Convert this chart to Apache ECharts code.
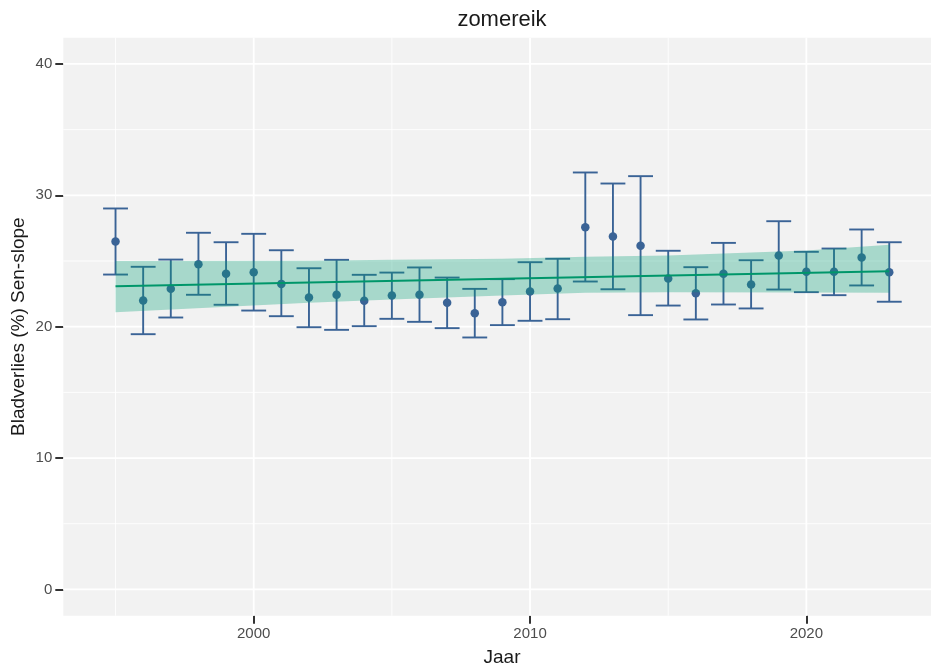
<!DOCTYPE html>
<html>
<head>
<meta charset="utf-8">
<script src="https://cdn.jsdelivr.net/npm/echarts@6/dist/echarts.min.js"></script>
<style>
  html, body { margin: 0; padding: 0; background: #ffffff; }
  #chart { width: 931px; height: 668px; }
</style>
</head>
<body>
<div id="chart"></div>
<script>
// Yearly leaf-loss estimates for zomereik with their confidence limits
const years = [1995, 1996, 1997, 1998, 1999, 2000, 2001, 2002, 2003, 2004,
               2005, 2006, 2007, 2008, 2009, 2010, 2011, 2012, 2013, 2014,
               2015, 2016, 2017, 2018, 2019, 2020, 2021, 2022, 2023];
const meanLoss = [26.48, 21.99, 22.88, 24.76, 24.03, 24.15, 23.26, 22.22, 22.43, 21.97,
                  22.37, 22.43, 21.82, 21.03, 21.87, 22.68, 22.91, 27.57, 26.86, 26.16,
                  23.67, 22.55, 24.03, 23.21, 25.42, 24.18, 24.18, 25.27, 24.15];
const upperLimit = [29.00, 24.56, 25.11, 27.15, 26.43, 27.07, 25.82, 24.45, 25.09, 23.95,
                    24.12, 24.51, 23.74, 22.88, 23.62, 24.91, 25.17, 31.74, 30.90, 31.46,
                    25.78, 24.53, 26.38, 25.06, 28.03, 25.70, 25.95, 27.40, 26.43];
const lowerLimit = [23.97, 19.43, 20.70, 22.43, 21.67, 21.23, 20.80, 19.96, 19.76, 20.04,
                    20.60, 20.37, 19.89, 19.18, 20.12, 20.45, 20.57, 23.44, 22.85, 20.88,
                    21.61, 20.55, 21.69, 21.39, 22.83, 22.63, 22.40, 23.14, 21.90];

// Sen-slope trend and its confidence band
const trendYears = [1995, 2023];
const trendValues = [23.08, 24.22];
const bandYears = [1995, 2002, 2005, 2009, 2012, 2015, 2020, 2023];
const bandUpper = [25.00, 25.02, 25.10, 25.17, 25.32, 25.42, 25.80, 26.23];
const bandLower = [21.10, 21.82, 22.08, 22.37, 22.58, 22.62, 22.60, 22.58];

// Axis ticks and grid lines
const xTicks = [2000, 2010, 2020];
const xMinor = [1995, 2005, 2015];
const yTicks = [0, 10, 20, 30, 40];
const yMinor = [5, 15, 25, 35];

const FONT = '"Liberation Sans", Arial, Helvetica, sans-serif';
const BAR_COLOR = '#3a6396';
const CAP_HALF = 0.45;

const chart = echarts.init(document.getElementById('chart'), null, { renderer: 'canvas' });

function gridLineSeries(values, vertical, width) {
  return {
    type: 'custom',
    coordinateSystem: 'cartesian2d',
    silent: true,
    z: 1,
    data: values.map(v => vertical ? [v, 0] : [2000, v]),
    renderItem: function (params, api) {
      const cs = params.coordSys;
      const p = api.coord([api.value(0), api.value(1)]);
      const shape = vertical
        ? { x1: p[0], y1: cs.y, x2: p[0], y2: cs.y + cs.height }
        : { x1: cs.x, y1: p[1], x2: cs.x + cs.width, y2: p[1] };
      return { type: 'line', shape: shape, style: { stroke: '#ffffff', lineWidth: width } };
    }
  };
}

const option = {
  animation: false,
  backgroundColor: '#ffffff',
  textStyle: { fontFamily: FONT },
  grid: {
    left: 63.3, right: 0, top: 37.7, bottom: 52.3,
    show: true, backgroundColor: '#f2f2f2', borderWidth: 0,
    containLabel: false, outerBoundsMode: 'none'
  },
  xAxis: {
    type: 'value',
    position: 'bottom',
    min: 1993.11, max: 2024.51,
    axisLine: { show: false, onZero: false },
    splitLine: { show: false },
    axisTick: { show: true, customValues: xTicks, length: 8, lineStyle: { color: '#333333', width: 2 } },
    axisLabel: {
      customValues: xTicks, margin: 11, color: '#4d4d4d', fontSize: 15, fontFamily: FONT,
      formatter: v => String(v)
    }
  },
  yAxis: {
    type: 'value',
    position: 'left',
    min: -2, max: 42,
    axisLine: { show: false, onZero: false },
    splitLine: { show: false },
    axisTick: { show: true, customValues: yTicks, length: 8, lineStyle: { color: '#333333', width: 2 } },
    axisLabel: {
      customValues: yTicks, margin: 11, color: '#4d4d4d', fontSize: 15, fontFamily: FONT,
      formatter: v => String(v)
    }
  },
  graphic: [
    { type: 'text', x: 502, y: 19.5, style: { text: 'zomereik', fill: '#1a1a1a', font: '22px ' + FONT, align: 'center', verticalAlign: 'middle' } },
    { type: 'text', x: 502, y: 658, style: { text: 'Jaar', fill: '#1a1a1a', font: '19px ' + FONT, align: 'center', verticalAlign: 'middle' } },
    { type: 'text', x: 18.5, y: 326.7, rotation: Math.PI / 2, style: { text: 'Bladverlies (%) Sen-slope', fill: '#1a1a1a', font: '19px ' + FONT, align: 'center', verticalAlign: 'middle' } }
  ],
  series: [
    gridLineSeries(xMinor, true, 0.9),
    gridLineSeries(yMinor, false, 0.9),
    gridLineSeries(xTicks, true, 1.8),
    gridLineSeries(yTicks, false, 1.8),
    {
      // error bars
      type: 'custom',
      coordinateSystem: 'cartesian2d',
      z: 2,
      data: years.map((y, i) => [y, lowerLimit[i], upperLimit[i]]),
      renderItem: function (params, api) {
        const x = api.value(0), lo = api.value(1), hi = api.value(2);
        const top = api.coord([x, hi]);
        const bot = api.coord([x, lo]);
        const tl = api.coord([x - CAP_HALF, hi]);
        const tr = api.coord([x + CAP_HALF, hi]);
        const bl = api.coord([x - CAP_HALF, lo]);
        const br = api.coord([x + CAP_HALF, lo]);
        const style = { stroke: BAR_COLOR, lineWidth: 1.9 };
        return {
          type: 'group',
          children: [
            { type: 'line', shape: { x1: top[0], y1: top[1], x2: bot[0], y2: bot[1] }, style: style },
            { type: 'line', shape: { x1: tl[0], y1: tl[1], x2: tr[0], y2: tr[1] }, style: style },
            { type: 'line', shape: { x1: bl[0], y1: bl[1], x2: br[0], y2: br[1] }, style: style }
          ]
        };
      }
    },
    {
      type: 'scatter',
      z: 3,
      symbol: 'circle',
      symbolSize: 8.5,
      itemStyle: { color: BAR_COLOR, opacity: 1 },
      data: years.map((y, i) => [y, meanLoss[i]])
    },
    {
      // confidence band of the trend
      type: 'custom',
      coordinateSystem: 'cartesian2d',
      z: 4,
      silent: true,
      data: bandYears.map((y, i) => [y, bandLower[i], bandUpper[i]]),
      renderItem: function (params, api) {
        if (params.dataIndex !== 0) return null;
        const pts = [];
        for (let i = 0; i < bandYears.length; i++) pts.push(api.coord([bandYears[i], bandUpper[i]]));
        for (let i = bandYears.length - 1; i >= 0; i--) pts.push(api.coord([bandYears[i], bandLower[i]]));
        return { type: 'polygon', shape: { points: pts }, style: { fill: 'rgba(0,158,115,0.31)' } };
      }
    },
    {
      type: 'line',
      z: 5,
      showSymbol: false,
      symbol: 'none',
      lineStyle: { color: '#00966a', width: 2 },
      data: trendYears.map((y, i) => [y, trendValues[i]])
    }
  ]
};

chart.setOption(option);
</script>
</body>
</html>
